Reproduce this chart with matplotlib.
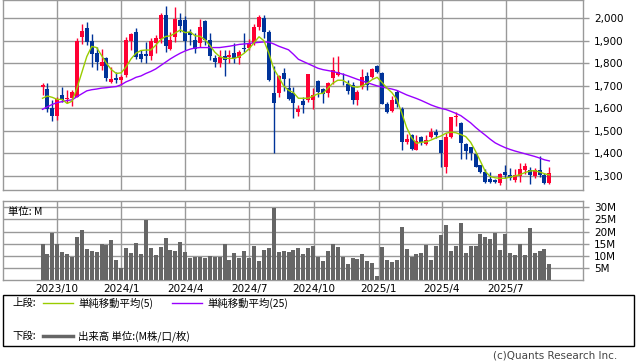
import numpy as np
import pandas as pd
import matplotlib
matplotlib.use('Agg')
import matplotlib.pyplot as plt
import matplotlib.dates as mdates
from matplotlib.patches import Rectangle
from matplotlib.lines import Line2D

# weekly candles (open, high, low, close)
opens = [1694, 1686, 1603, 1568, 1660, 1640, 1648, 1652, 1919, 1957,
         1899, 1848, 1790, 1822, 1719, 1735, 1726, 1748, 1901, 1938,
         1842, 1842, 1834, 1892, 1908, 2015, 1864, 1919, 1993, 1993,
         1941, 1904, 1889, 1990, 1904, 1825, 1800, 1834, 1827, 1848,
         1822, 1867, 1870, 1889, 1960, 2000, 1938, 1667, 1670, 1759,
         1689, 1670, 1586, 1633, 1639, 1639, 1720, 1688, 1667, 1735,
         1750, 1727, 1710, 1702, 1636, 1695, 1742, 1739, 1788, 1757,
         1621, 1587, 1673, 1599, 1451, 1481, 1414, 1473, 1440, 1475,
         1497, 1460, 1340, 1472, 1563, 1537, 1442, 1427, 1398, 1350,
         1318, 1285, 1282, 1270, 1318, 1304, 1283, 1300, 1325, 1328,
         1300, 1326, 1305, 1267]
closes = [1704, 1596, 1568, 1640, 1637, 1648, 1673, 1901, 1944, 1896,
          1840, 1806, 1806, 1735, 1729, 1726, 1741, 1904, 1930, 1830,
          1819, 1834, 1899, 1914, 2015, 1879, 1904, 1997, 1966, 1899,
          1926, 1862, 1963, 1904, 1834, 1805, 1830, 1815, 1837, 1822,
          1852, 1862, 1892, 1959, 2004, 1938, 1726, 1623, 1744, 1729,
          1642, 1626, 1597, 1614, 1751, 1658, 1673, 1666, 1711, 1769,
          1762, 1724, 1677, 1636, 1673, 1739, 1705, 1773, 1762, 1621,
          1584, 1639, 1621, 1451, 1466, 1422, 1454, 1451, 1462, 1497,
          1482, 1401, 1475, 1560, 1567, 1448, 1412, 1404, 1342, 1318,
          1275, 1273, 1272, 1308, 1303, 1292, 1306, 1330, 1343, 1304,
          1326, 1304, 1267, 1312]
highs = [1711, 1711, 1637, 1652, 1694, 1682, 1682, 1911, 1975, 1984,
         1929, 1874, 1864, 1830, 1785, 1763, 1748, 1919, 1933, 1956,
         1859, 1896, 1911, 1926, 2022, 2055, 1941, 2052, 2025, 2010,
         1951, 1933, 1996, 1993, 1933, 1837, 1859, 1859, 1859, 1889,
         1859, 1933, 1907, 1975, 2015, 2015, 1948, 1790, 1748, 1778,
         1734, 1694, 1615, 1651, 1754, 1689, 1725, 1689, 1719, 1828,
         1831, 1757, 1725, 1717, 1680, 1776, 1762, 1781, 1791, 1762,
         1628, 1654, 1680, 1606, 1488, 1488, 1481, 1476, 1481, 1512,
         1507, 1460, 1489, 1563, 1586, 1541, 1448, 1430, 1404, 1350,
         1330, 1319, 1288, 1312, 1349, 1334, 1330, 1356, 1356, 1338,
         1334, 1390, 1312, 1340]
lows = [1660, 1586, 1546, 1549, 1630, 1623, 1611, 1652, 1885, 1882,
        1785, 1771, 1771, 1723, 1711, 1711, 1704, 1741, 1859, 1818,
        1808, 1800, 1815, 1848, 1892, 1852, 1859, 1896, 1941, 1859,
        1882, 1845, 1874, 1882, 1815, 1785, 1785, 1744, 1800, 1800,
        1797, 1852, 1859, 1882, 1948, 1911, 1723, 1401, 1652, 1679,
        1637, 1556, 1566, 1580, 1629, 1599, 1651, 1622, 1652, 1710,
        1745, 1702, 1666, 1618, 1614, 1688, 1682, 1736, 1757, 1618,
        1580, 1583, 1607, 1414, 1444, 1414, 1414, 1437, 1437, 1467,
        1467, 1341, 1313, 1467, 1522, 1374, 1377, 1369, 1340, 1315,
        1270, 1270, 1270, 1259, 1290, 1282, 1275, 1275, 1309, 1266,
        1290, 1297, 1266, 1264]

# moving averages as drawn on the chart
ma5 = [1645, 1655, 1649, 1640, 1640, 1622, 1632, 1690, 1760, 1830,
       1875, 1870, 1835, 1800, 1772, 1755, 1758, 1785, 1820, 1845,
       1857, 1859, 1859, 1880, 1905, 1919, 1922, 1935, 1948, 1936,
       1940, 1922, 1920, 1905, 1880, 1850, 1830, 1822, 1822, 1822,
       1830, 1845, 1865, 1892, 1918, 1900, 1845, 1775, 1740, 1700,
       1680, 1670, 1645, 1645, 1645, 1655, 1665, 1667, 1690, 1712,
       1725, 1725, 1712, 1697, 1694, 1700, 1712, 1728, 1738, 1715,
       1690, 1670, 1640, 1580, 1515, 1470, 1445, 1450, 1452, 1460,
       1470, 1478, 1490, 1495, 1492, 1484, 1475, 1450, 1410, 1365,
       1320, 1298, 1292, 1290, 1290, 1295, 1300, 1306, 1315, 1322,
       1324, 1318, 1310, 1305]
ma25 = [1596, 1607, 1618, 1626, 1630, 1635, 1638, 1652, 1665, 1678,
        1683, 1686, 1690, 1692, 1695, 1697, 1705, 1718, 1727, 1738,
        1744, 1755, 1764, 1775, 1790, 1805, 1820, 1833, 1845, 1855,
        1863, 1868, 1870, 1870, 1870, 1870, 1870, 1873, 1876, 1880,
        1884, 1886, 1888, 1891, 1893, 1895, 1894, 1886, 1876, 1868,
        1860, 1840, 1818, 1808, 1798, 1788, 1778, 1772, 1768, 1764,
        1758, 1752, 1745, 1737, 1729, 1722, 1714, 1707, 1700, 1695,
        1690, 1686, 1680, 1670, 1660, 1652, 1644, 1635, 1625, 1615,
        1607, 1600, 1595, 1587, 1578, 1568, 1552, 1536, 1516, 1498,
        1481, 1463, 1447, 1436, 1426, 1418, 1411, 1405, 1399, 1393,
        1387, 1380, 1372, 1367]

# volume in millions
volume = [14.8, 10.7, 19.4, 14.8, 11.5, 10.7, 9.6, 17.8, 20.5, 12.7,
          11.9, 11.5, 14.8, 14.5, 16.4, 8.2, 4.9, 13.1, 11.2, 15.2,
          10.7, 24.7, 13.1, 10.2, 13.5, 17.2, 12.3, 11.9, 15.6, 11.5,
          9.0, 9.4, 9.4, 9.0, 9.8, 9.4, 9.4, 14.8, 8.2, 11.1,
          9.0, 11.9, 9.0, 13.9, 7.8, 12.3, 13.1, 29.9, 11.5, 11.9,
          11.5, 12.3, 13.1, 10.7, 13.1, 13.9, 9.4, 7.8, 11.9, 14.8,
          13.5, 9.4, 6.6, 9.0, 8.6, 10.7, 7.8, 7.0, 1.6, 13.5,
          8.2, 7.4, 8.2, 21.7, 12.7, 9.4, 10.7, 11.1, 14.3, 8.2,
          13.9, 18.4, 22.9, 11.9, 13.9, 23.4, 11.1, 13.9, 13.9, 18.9,
          17.6, 16.8, 19.3, 12.3, 18.9, 11.1, 10.2, 14.8, 10.2, 21.3,
          11.1, 11.9, 12.7, 6.6]

quarter_ticks = ['2023-10-01', '2024-01-01', '2024-04-01', '2024-07-01',
                 '2024-10-01', '2025-01-01', '2025-04-01', '2025-07-01']
quarter_labels = ['2023/10', '2024/1', '2024/4', '2024/7',
                  '2024/10', '2025/1', '2025/4', '2025/7']
price_ticks = [1300, 1400, 1500, 1600, 1700, 1800, 1900, 2000]
vol_ticks = [5, 10, 15, 20, 25, 30]

cjk = ['Noto Sans CJK JP', 'DejaVu Sans']
grid_col = '#999999'
up_col = '#ff0033'
down_col = '#003399'
ma5_col = '#99cc00'
ma25_col = '#9900ff'

dates = pd.date_range('2023-09-11', periods=len(opens), freq='7D')
x = mdates.date2num(dates)
o = np.array(opens)
c = np.array(closes)
cols = np.where(c >= o, up_col, down_col)

fig = plt.figure(figsize=(6.38, 3.62), dpi=100)
ax = fig.add_axes([3 / 638, 1 - 190 / 362, 580 / 638, 190 / 362])
axv = fig.add_axes([3 / 638, 1 - 280 / 362, 580 / 638, 79 / 362])

day_px = 0.703
x_left = x[0] - 39.5 / day_px
x_right = x_left + 580 / day_px
qx = mdates.date2num(pd.to_datetime(quarter_ticks))

# price panel
ax.vlines(x, lows, highs, colors=cols, lw=1.0, zorder=2)
ax.bar(x, np.maximum(np.abs(c - o), 4), bottom=np.minimum(o, c),
       width=4 / day_px, color=cols, linewidth=0, zorder=3)
ax.plot(x, ma25, color=ma25_col, lw=1.0, zorder=4)
ax.plot(x, ma5, color=ma5_col, lw=1.0, zorder=4)
ax.set_xlim(x_left, x_right)
ax.set_ylim(1238, 2081)
ax.set_yticks(price_ticks)
ax.set_yticklabels([f'{v:,}' for v in price_ticks])
ax.set_xticks(qx)
ax.set_xticklabels([])

# volume panel
axv.bar(x, volume, width=4 / day_px, color='#666666', linewidth=0, zorder=3)
axv.set_xlim(x_left, x_right)
axv.set_ylim(0, 32.6)
axv.set_yticks(vol_ticks)
axv.set_yticklabels([f'{v}M' for v in vol_ticks])
axv.set_xticks(qx)
axv.set_xticklabels(quarter_labels)
axv.text(5 / 580, 0.86, '単位: M', transform=axv.transAxes, fontsize=7.5,
         family=cjk, va='center', ha='left', zorder=5)

for a in (ax, axv):
    a.set_axisbelow(True)
    a.grid(True, color=grid_col, lw=1.0)
    a.yaxis.tick_right()
    a.tick_params(axis='y', length=4, width=1.0, color=grid_col, pad=4,
                  labelsize=7.5)
    a.tick_params(axis='x', length=0, pad=3, labelsize=7.5)
    for s in a.spines.values():
        s.set_color(grid_col)
        s.set_linewidth(1.0)

# legend box
fig.add_artist(Rectangle((3 / 638, 1 - 346 / 362), 631 / 638, 51 / 362,
                         transform=fig.transFigure, fill=False,
                         edgecolor='black', lw=1.0))
y1 = 1 - 303 / 362
y2 = 1 - 336 / 362
fig.text(12 / 638, y1, '上段:', fontsize=7.5, family=cjk, va='center')
fig.add_artist(Line2D([43 / 638, 73 / 638], [y1, y1], color=ma5_col, lw=1.0,
                      transform=fig.transFigure))
fig.text(78 / 638, y1, '単純移動平均(5)', fontsize=7.5, family=cjk, va='center')
fig.add_artist(Line2D([172 / 638, 202 / 638], [y1, y1], color=ma25_col,
                      lw=1.0, transform=fig.transFigure))
fig.text(207 / 638, y1, '単純移動平均(25)', fontsize=7.5, family=cjk,
         va='center')
fig.text(12 / 638, y2, '下段:', fontsize=7.5, family=cjk, va='center')
fig.add_artist(Line2D([43 / 638, 73 / 638], [y2, y2], color='#666666', lw=2.5,
                      transform=fig.transFigure))
fig.text(78 / 638, y2, '出来高 単位:(M株/口/枚)', fontsize=7.5, family=cjk,
         va='center')

fig.text(617 / 638, 1 - 355 / 362, '(c)Quants Research Inc.', fontsize=7.5,
         color='#444444', ha='right', va='center')

fig.savefig('out.png', dpi=100)
